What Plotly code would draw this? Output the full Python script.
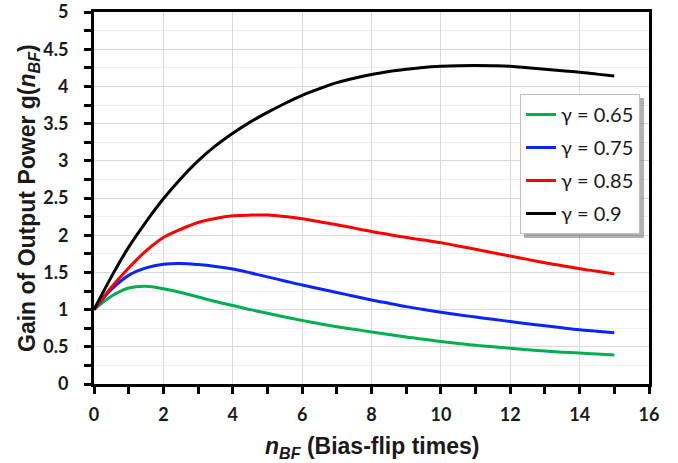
import plotly.graph_objects as go

n_bf = [0, 0.5, 1, 1.5, 2, 2.5, 3, 3.5, 4, 4.5, 5, 5.5, 6, 6.5, 7, 7.5, 8, 8.5, 9, 9.5,
        10, 10.5, 11, 11.5, 12, 12.5, 13, 13.5, 14, 14.5, 15]

g_065 = [1.00, 1.18, 1.29, 1.315, 1.28, 1.23, 1.17, 1.11, 1.055, 1.00, 0.95, 0.90, 0.855, 0.81, 0.77, 0.735,
         0.70, 0.665, 0.633, 0.60, 0.572, 0.545, 0.52, 0.50, 0.48, 0.46, 0.443, 0.428, 0.415, 0.402, 0.39]
g_075 = [1.00, 1.27, 1.46, 1.56, 1.61, 1.62, 1.605, 1.58, 1.545, 1.495, 1.44, 1.385, 1.33, 1.28, 1.23, 1.18,
         1.13, 1.085, 1.04, 1.00, 0.963, 0.93, 0.90, 0.87, 0.84, 0.81, 0.782, 0.755, 0.73, 0.71, 0.69]
g_085 = [1.00, 1.30, 1.56, 1.79, 1.97, 2.08, 2.17, 2.225, 2.26, 2.27, 2.27, 2.25, 2.22, 2.18, 2.14, 2.095,
         2.05, 2.01, 1.97, 1.935, 1.90, 1.855, 1.81, 1.765, 1.72, 1.675, 1.63, 1.59, 1.55, 1.515, 1.48]
g_090 = [1.00, 1.44, 1.84, 2.18, 2.49, 2.76, 3.00, 3.20, 3.37, 3.52, 3.65, 3.77, 3.88, 3.97, 4.05, 4.11,
         4.16, 4.20, 4.23, 4.255, 4.27, 4.278, 4.28, 4.277, 4.27, 4.25, 4.23, 4.21, 4.19, 4.165, 4.14]

series_names = ["γ = 0.65", "γ = 0.75", "γ = 0.85", "γ = 0.9"]
series_values = [g_065, g_075, g_085, g_090]
series_colors = ["#00b050", "#0a24ff", "#ff0000", "#000000"]

x_title = "<b><i>n</i><sub><i>BF</i></sub> (Bias-flip times)</b>"
y_title = "<b>Gain of Output Power g(<i>n</i><sub><i>BF</i></sub>)</b>"

fig = go.Figure()
for name, vals, col in zip(series_names, series_values, series_colors):
    fig.add_trace(go.Scatter(x=n_bf, y=vals, mode="lines", name=name, legendgroup=name,
                             line=dict(color=col, width=3, shape="spline", smoothing=1)))

tick_font = dict(family="Lato, Open Sans, sans-serif", size=18, color="#1a1a1a", weight="bold")
title_font = dict(family="Liberation Sans, Arial, sans-serif", size=23, color="#1a1a1a")

fig.update_xaxes(
    range=[0, 16], dtick=2, tick0=0, automargin=False,
    showline=True, linecolor="black", linewidth=3, mirror=True,
    ticks="outside", ticklen=7, tickwidth=2.5, tickcolor="black",
    minor=dict(dtick=1, ticks="outside", ticklen=7, tickwidth=2.5, tickcolor="black", showgrid=False),
    showgrid=True, gridcolor="#d9d9d9", gridwidth=1,
    zeroline=False, ticklabeloverflow="allow",
    tickfont=tick_font, ticklabelstandoff=5,
)
fig.update_yaxes(
    range=[0, 5], dtick=0.5, tick0=0, automargin=False,
    showline=True, linecolor="black", linewidth=3, mirror=True,
    ticks="outside", ticklen=7, tickwidth=2.5, tickcolor="black",
    minor=dict(dtick=0.25, ticks="outside", ticklen=7, tickwidth=2.5, tickcolor="black",
               showgrid=True, gridcolor="#eeeeee", gridwidth=1),
    showgrid=True, gridcolor="#d9d9d9", gridwidth=1,
    zeroline=False, ticklabeloverflow="allow",
    tickfont=tick_font, ticklabelstandoff=12,
)

# axis titles as annotations for precise placement
fig.add_annotation(text=x_title, xref="paper", yref="paper", x=0.5, y=-0.1694,
                   xanchor="center", yanchor="middle", showarrow=False, font=title_font)
fig.add_annotation(text=y_title, xref="paper", yref="paper", x=-0.119, y=0.5,
                   xanchor="center", yanchor="middle", textangle=-90, showarrow=False, font=title_font)

# legend drop shadow
fig.add_shape(type="rect", xref="paper", yref="paper", x0=0.7748, x1=0.991, y0=0.3925, y1=0.7688,
              fillcolor="rgba(100,100,100,0.5)", line=dict(width=0), layer="above")

fig.update_layout(
    width=678, height=463,
    margin=dict(l=94, r=29, t=12, b=79),
    plot_bgcolor="white", paper_bgcolor="white",
    showlegend=True,
    legend=dict(x=0.7676, y=0.7796, xanchor="left", yanchor="top",
                bgcolor="white", bordercolor="#bfbfbf", borderwidth=1,
                font=dict(family="Lato, Open Sans, sans-serif", size=20, color="#1a1a1a"),
                itemwidth=30, tracegroupgap=4),
)

fig.write_html("out.html", config={"displayModeBar": False},
               post_script="document.body.style.margin='0';document.body.style.overflow='hidden';")
